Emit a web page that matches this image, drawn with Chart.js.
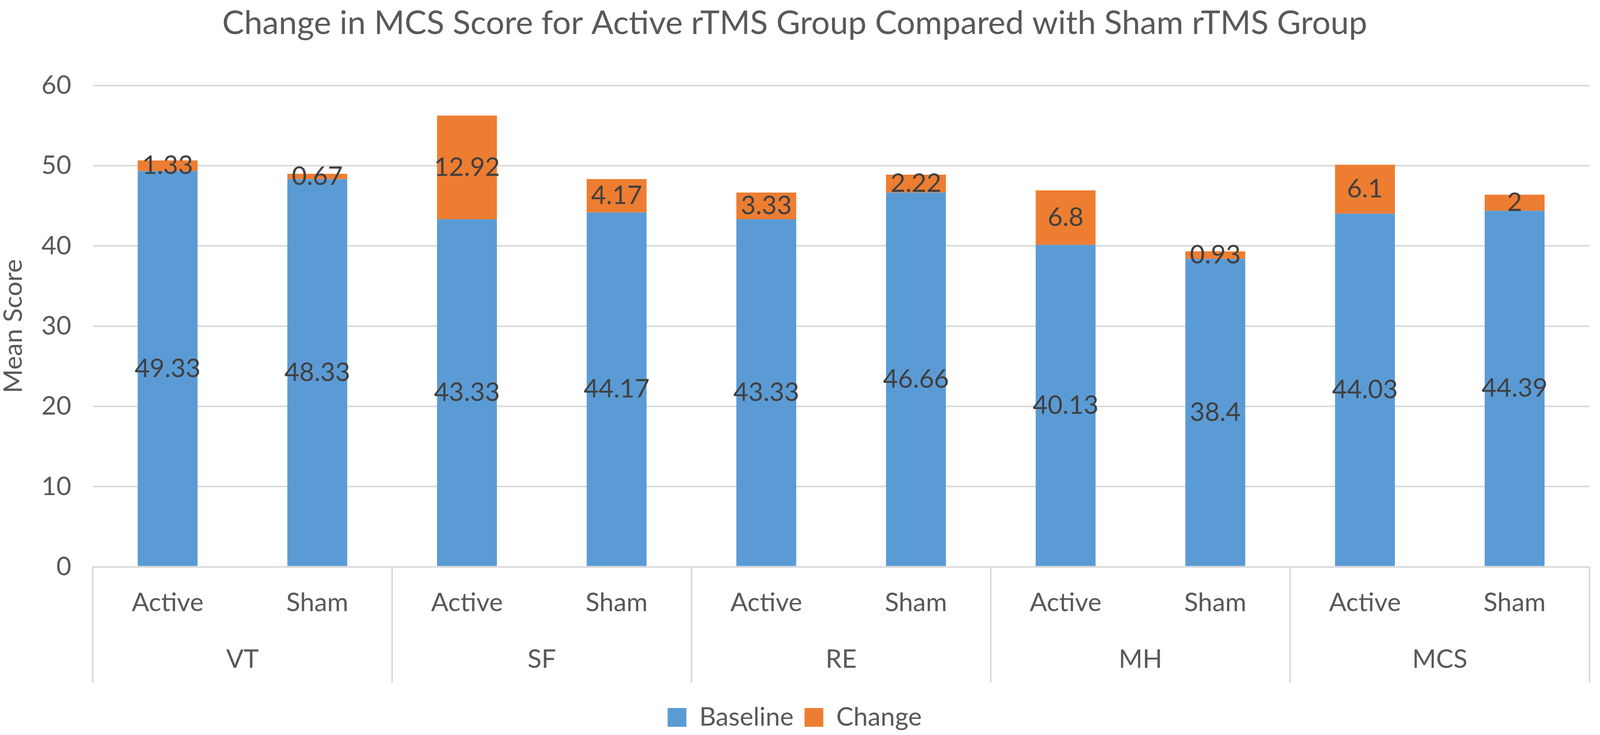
<!DOCTYPE html>
<html>
<head>
<meta charset="utf-8">
<title>Change in MCS Score</title>
<script src="https://cdn.jsdelivr.net/npm/chart.js@4.4.1/dist/chart.umd.min.js"></script>
<style>
  html, body { margin: 0; padding: 0; background: #ffffff; overflow: hidden; }
  #wrap { position: relative; width: 100vw; height: 100vh; }
</style>
</head>
<body>
<div id="wrap"><canvas id="mcsChart"></canvas></div>
<script>
// Данные графика
const subLabels = ['Active', 'Sham', 'Active', 'Sham', 'Active', 'Sham', 'Active', 'Sham', 'Active', 'Sham'];
const groups = ['VT', 'SF', 'RE', 'MH', 'MCS'];
const baseline = [49.33, 48.33, 43.33, 44.17, 43.33, 46.66, 40.13, 38.4, 44.03, 44.39];
const change = [1.33, 0.67, 12.92, 4.17, 3.33, 2.22, 6.8, 0.93, 6.1, 2];
const yTicks = [0, 10, 20, 30, 40, 50, 60];

const textColor = '#595959';
const gridColor = '#d9d9d9';

Chart.defaults.font.family = 'Lato';
Chart.defaults.color = textColor;

// Подписи значений по центру каждого сегмента
const segmentLabels = {
  id: 'segmentLabels',
  afterDatasetsDraw(chart) {
    const ctx = chart.ctx;
    ctx.save();
    ctx.font = '66px Lato';
    ctx.fillStyle = '#404040';
    ctx.textAlign = 'center';
    ctx.textBaseline = 'middle';
    chart.data.datasets.forEach((ds, i) => {
      chart.getDatasetMeta(i).data.forEach((bar, j) => {
        ctx.fillText(String(ds.data[j]), bar.x, (bar.y + bar.base) / 2);
      });
    });
    ctx.restore();
  }
};

// Вертикальные разделители групп под осью X
const groupLines = {
  id: 'groupLines',
  afterDraw(chart) {
    const g = chart.scales.xGroup;
    const step = g.width / groups.length;
    const ctx = chart.ctx;
    ctx.save();
    ctx.strokeStyle = gridColor;
    ctx.lineWidth = 4;
    for (let i = 0; i <= groups.length; i++) {
      const x = g.left + i * step;
      ctx.beginPath();
      ctx.moveTo(x, chart.chartArea.bottom);
      ctx.lineTo(x, g.bottom);
      ctx.stroke();
    }
    ctx.restore();
  }
};

const ctx = document.getElementById('mcsChart').getContext('2d');
new Chart(ctx, {
  type: 'bar',
  data: {
    labels: subLabels,
    datasets: [{
      label: 'Baseline',
      data: baseline,
      backgroundColor: '#5b9bd5',
      categoryPercentage: 1,
      barPercentage: 0.4
    }, {
      label: 'Change',
      data: change,
      backgroundColor: '#ed7d31',
      categoryPercentage: 1,
      barPercentage: 0.4
    }]
  },
  options: {
    responsive: true,
    maintainAspectRatio: false,
    devicePixelRatio: 1,
    animation: false,
    layout: {
      padding: { left: 0, right: 27, top: 0, bottom: 2 }
    },
    plugins: {
      title: {
        display: true,
        text: 'Change in MCS Score for Active rTMS Group Compared with Sham rTMS Group',
        color: textColor,
        font: { size: 84, weight: 'normal', lineHeight: 1.2 },
        padding: { top: 10, bottom: 108 }
      },
      legend: {
        position: 'bottom',
        title: {
          display: true,
          text: '',
          font: { size: 1, lineHeight: 1 },
          padding: { top: 0, bottom: 27 }
        },
        labels: {
          color: textColor,
          font: { size: 66 },
          boxWidth: 48,
          boxHeight: 48,
          padding: 28
        }
      },
      tooltip: { enabled: false }
    },
    scales: {
      x: {
        stacked: true,
        grid: { display: true, drawOnChartArea: false, drawTicks: false },
        border: { display: true, color: gridColor, width: 4 },
        ticks: { color: textColor, font: { size: 66, lineHeight: 1.2 }, padding: 53, maxRotation: 0, autoSkip: false }
      },
      xGroup: {
        type: 'category',
        labels: groups,
        position: 'bottom',
        offset: true,
        grid: { display: false },
        border: { display: false },
        ticks: { color: textColor, font: { size: 66, lineHeight: 1.2 }, padding: 4, maxRotation: 0 },
        title: {
          display: true,
          text: '',
          font: { size: 1, lineHeight: 1 },
          padding: { top: 0, bottom: 15 }
        }
      },
      y: {
        stacked: true,
        min: 0,
        max: 60,
        afterBuildTicks: (axis) => {
          axis.ticks = yTicks.map(v => ({ value: v }));
        },
        grid: { color: gridColor, lineWidth: 4, drawTicks: true, tickLength: 45, tickColor: 'rgba(0,0,0,0)' },
        border: { display: false },
        ticks: { color: textColor, font: { size: 66 }, padding: 10 },
        title: {
          display: true,
          text: 'Mean Score',
          color: textColor,
          font: { size: 66, lineHeight: 1 },
          padding: { top: 2, bottom: 28 }
        }
      }
    }
  },
  plugins: [segmentLabels, groupLines]
});
</script>
</body>
</html>
